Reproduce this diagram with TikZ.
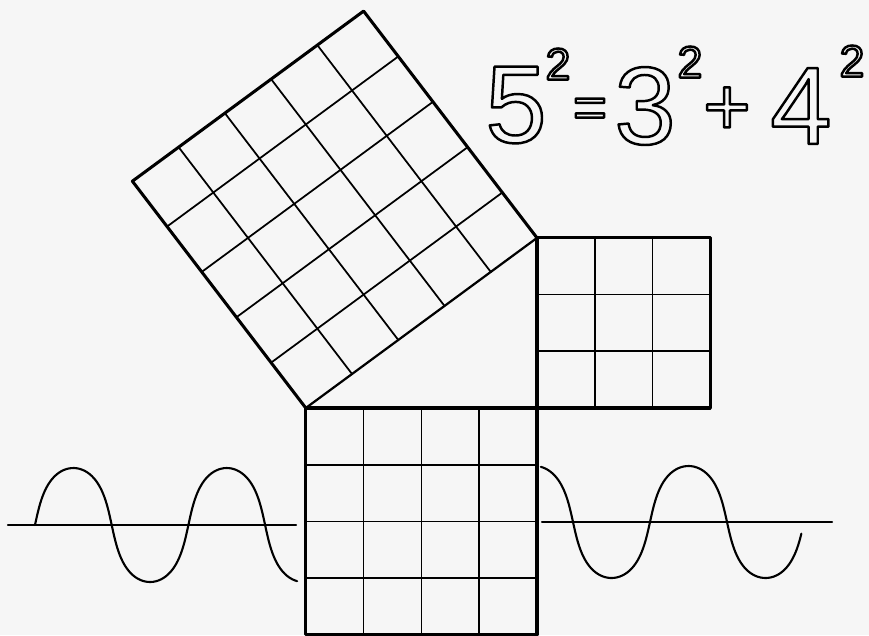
\documentclass[tikz,border=0pt]{standalone}
\usepackage{fontspec}
\setmainfont{Liberation Sans}
\definecolor{paper}{gray}{0.965}
\newcommand{\hollow}[1]{\special{pdf:code 1 Tr 2.1 w 1 j}#1\special{pdf:code 0 Tr}}
\tikzset{
  outer/.style={line width=2.6pt, line join=round},
  hyp/.style={line width=1.9pt},
  inner/.style={line width=1.5pt},
  wave/.style={line width=1.8pt, smooth, samples=150, variable=\t},
  bigdigit/.style={font=\fontsize{94}{94}\selectfont, inner sep=0pt},
  supdigit/.style={font=\fontsize{38}{38}\selectfont, inner sep=0pt},
}
\begin{document}
\begin{tikzpicture}[x={(0.03cm,0)}, y={(0,-0.03cm)}, line cap=round]
\useasboundingbox (0,0) rectangle (869,635);
\clip (0,0) rectangle (869,635);
\fill[paper] (0,0) rectangle (869,635);
\begin{scope}[shift={(537,408)}, x={(1.734cm,0)}, y={(0,1.701cm)}]
  \foreach \i in {1,2,3} \draw[inner] (-\i,0) -- (-\i,-4) (-4,-\i) -- (0,-\i);
  \draw[outer] (-4,0) rectangle (0,-4);
  \foreach \i in {1,2} \draw[inner] (\i,0) -- (\i,3) (0,\i) -- (3,\i);
  \draw[outer] (0,0) rectangle (3,3);
  \foreach \k in {1,...,4} {
    \draw[inner] ({-4-0.6*\k},{0.8*\k}) -- ({-0.6*\k},{3+0.8*\k});
    \draw[inner] ({-4+0.8*\k},{0.6*\k}) -- ({-7+0.8*\k},{4+0.6*\k});
  }
  \draw[outer] (0,3) -- (-3,7) -- (-7,4) -- (-4,0);
  \draw[hyp] (-4,0) -- (0,3);
\end{scope}
\draw[wave] (8,525) -- (296,525);
\draw[wave, domain=0:620] plot ({35+0.42611*\t-6.104*sin(2*\t)}, {525-57*sin(\t)});
\draw[wave] (542,522) -- (832,522);
\draw[wave, domain=-80:528] plot ({573+0.42778*\t-6.127*sin(2*\t)}, {522+56*sin(\t)});
\node[bigdigit] (five) at (516,105) {\hollow{5}};
\node[supdigit] (fivesq) at (558,64) {\hollow{2}};
\node[inner sep=0pt, font=\fontsize{50}{50}\selectfont] (equals) at (590,113) {\hollow{=}};
\node[bigdigit] (three) at (645,106) {\hollow{3}};
\node[supdigit] (threesq) at (690,62) {\hollow{2}};
\node[inner sep=0pt, font=\fontsize{70}{70}\selectfont] (plus) at (727,111) {\hollow{+}};
\node[bigdigit] (four) at (801,106) {\hollow{4}};
\node[supdigit] (foursq) at (852,61) {\hollow{2}};
\end{tikzpicture}
\end{document}
